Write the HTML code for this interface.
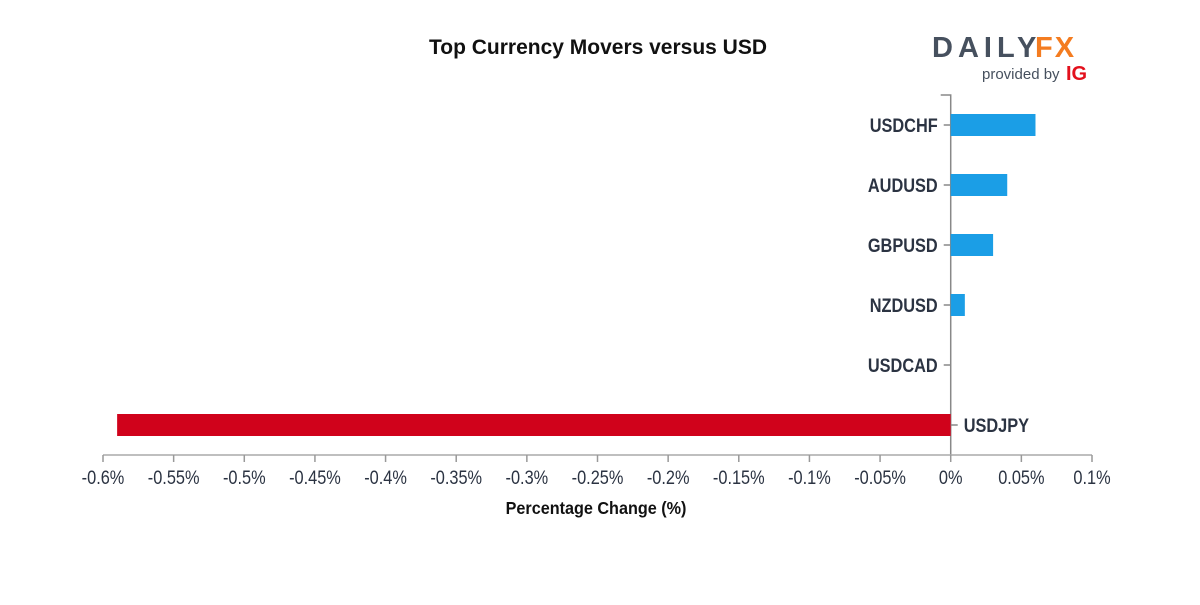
<!DOCTYPE html>
<html><head><meta charset="utf-8"><style>
body{margin:0;background:#fff;width:1200px;height:600px;overflow:hidden;font-family:"Liberation Sans",sans-serif}
</style></head><body>
<svg width="1200" height="600">
<text x="598" y="54" text-anchor="middle" font-size="21" font-weight="bold" fill="#111">Top Currency Movers versus USD</text>
<g>
<text x="932" y="57" font-size="29" font-weight="bold" fill="#46505e" letter-spacing="5">DAILY</text>
<text x="1035" y="57" font-size="29" font-weight="bold" fill="#f47c20" letter-spacing="2">FX</text>
<text x="982" y="79" font-size="15" fill="#46505e">provided by</text>
<text x="1066" y="80" font-size="20" font-weight="bold" fill="#e3101c">IG</text>
</g>
<g id="plot"></g>
<text x="596" y="514" text-anchor="middle" font-size="18" font-weight="bold" fill="#111" transform="translate(596,0) scale(0.9,1) translate(-596,0)">Percentage Change (%)</text>
</svg>
<script>
const categories=["USDCHF","AUDUSD","GBPUSD","NZDUSD","USDCAD","USDJPY"];
const values=[0.06,0.04,0.03,0.01,0,-0.59];
const ticks=[-0.6,-0.55,-0.5,-0.45,-0.4,-0.35,-0.3,-0.25,-0.2,-0.15,-0.1,-0.05,0,0.05,0.1];
const tickLabels=["-0.6%","-0.55%","-0.5%","-0.45%","-0.4%","-0.35%","-0.3%","-0.25%","-0.2%","-0.15%","-0.1%","-0.05%","0%","0.05%","0.1%"];
const NS="http://www.w3.org/2000/svg";
const g=document.getElementById('plot');
const x=v=>103+(v+0.6)/0.7*(1092-103);
const y=i=>125+i*60;
function mk(t,a){const e=document.createElementNS(NS,t);for(const k in a)e.setAttribute(k,a[k]);g.appendChild(e);return e;}
const x0=x(0);
let ax=mk('path',{d:`M${x0-10},95H${x0}V455`,stroke:'#888',fill:'none','stroke-width':1.5});


let xa=mk('line',{x1:x(-0.6),x2:x(0.1),y1:455,y2:455,stroke:'#aaa','stroke-width':1.5});


ticks.forEach((t,i)=>{
 mk('line',{x1:x(t),x2:x(t),y1:455,y2:462,stroke:'#999','stroke-width':1.5});
 const tx=mk('text',{x:0,y:0,'text-anchor':'middle','font-size':19,fill:'#2b3342',transform:`translate(${x(t)},484) scale(0.86,1)`});
 tx.textContent=tickLabels[i];
 
 
});
categories.forEach((c,i)=>{
 const v=values[i];
 const r=mk('rect',{x:Math.min(x(v),x0),y:y(i)-11,width:Math.abs(x(v)-x0),height:22,fill:v<0?'#d0021b':'#1b9ee6'});
 
 
 const neg=v<0;
 mk('line',{x1:neg?x0:x0-7,x2:neg?x0+7:x0,y1:y(i),y2:y(i),stroke:'#888','stroke-width':1.5});
 const t=mk('text',{x:0,y:0,'text-anchor':neg?'start':'end','font-size':19,'font-weight':'bold',fill:'#2b3342',transform:`translate(${neg?x0+13:x0-13},${y(i)+7}) scale(0.86,1)`});
 t.textContent=c;
 
 
});
</script>
</body></html>
